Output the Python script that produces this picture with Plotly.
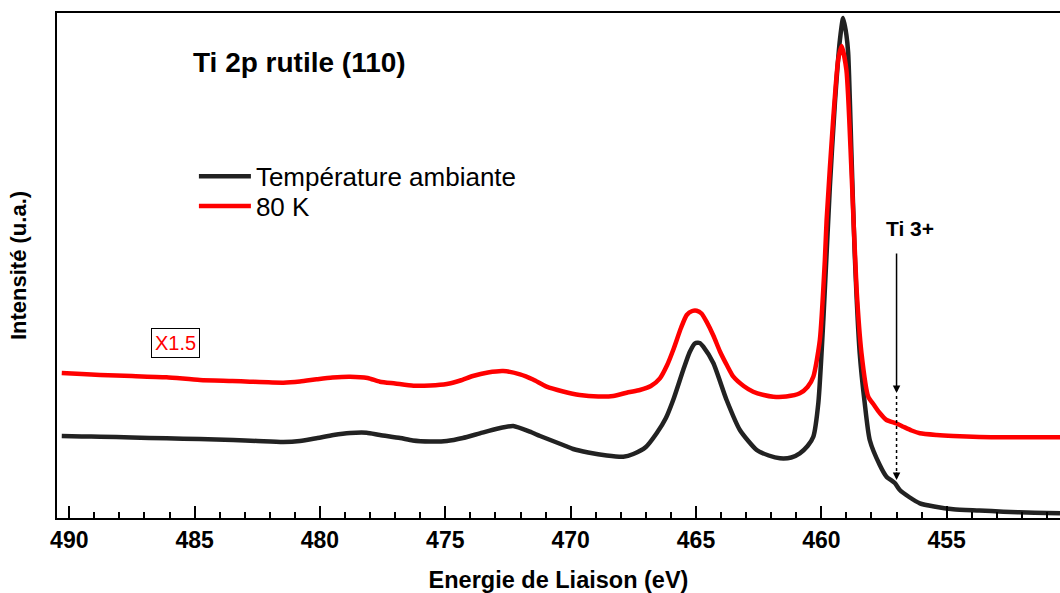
import plotly.graph_objects as go

# Ti 2p spectrum, rutile TiO2(110) — room temperature
energy_rt = [490.3, 489.5, 488.77, 487.5, 486.12, 484.8, 483.46, 482.5, 481.46, 480.8,
             480.1, 479.46, 478.8, 478.14, 477.61, 476.8, 476.3, 475.6, 474.94, 474.3,
             473.62, 472.9, 472.29, 471.63, 471.22, 470.3, 469.9, 469.3, 468.56, 467.9,
             467.5, 467.0, 466.57, 466.2, 465.91, 465.51, 465.25, 465.04, 464.85, 464.71,
             464.31, 463.78, 463.25, 462.58, 462.1, 461.65, 461.2, 460.86, 460.55, 460.32,
             460.12, 459.92, 459.66, 459.46, 459.26, 459.13, 459.0, 458.93, 458.8, 458.67,
             458.47, 458.27, 458.07, 457.67, 457.4, 457.07, 456.87, 456.5, 456.07, 455.5,
             454.74, 453.7, 452.74, 451.5, 450.48]
intensity_rt = [82, 81.5, 81.3, 80.5, 79.7, 79, 78, 77, 76, 77,
                80, 83, 85, 85.3, 83, 80, 77.5, 76.5, 77, 80,
                84.7, 89.5, 92, 86.3, 82, 73, 69, 65.5, 62.5, 61.3,
                64, 71, 84.7, 100, 118, 148, 166, 174.7, 175, 171.3,
                155, 118, 88, 68, 62.5, 59.7, 60.5, 64.7, 72, 81.3,
                115, 198, 331.3, 414.7, 478, 500, 483, 465, 365, 265,
                165, 115, 78, 53, 41.3, 35, 28, 21, 14.7, 11.5,
                8.7, 7.5, 6.3, 5.3, 4.7]

# 80 K spectrum (scaled x1.5)
energy_80k = [490.3, 489.5, 488.77, 487.5, 486.12, 484.79, 483.5, 482.8, 481.46, 480.8,
              480.13, 479.5, 478.8, 478.1, 477.61, 477.0, 476.27, 475.6, 474.94, 474.4,
              473.9, 473.3, 472.69, 472.02, 471.5, 470.96, 470.3, 469.64, 468.9, 468.3,
              467.7, 467.24, 466.8, 466.44, 466.15, 465.91, 465.6, 465.37, 465.15, 464.97,
              464.78, 464.58, 464.3, 464.04, 463.75, 463.51, 463.1, 462.72, 462.3, 461.92,
              461.4, 460.86, 460.55, 460.32, 460.06, 459.86, 459.79, 459.53, 459.33, 459.19,
              459.0, 458.8, 458.6, 458.4, 458.13, 457.9, 457.67, 457.4, 457.0, 456.73,
              456.4, 456.07, 455.4, 454.74, 453.7, 452.74, 451.5, 450.48]
intensity_80k = [145, 144, 143, 142, 140.7, 138, 137, 136.3, 135.3, 136.5,
                 138.7, 140.5, 141.3, 140, 136.3, 134.5, 132.3, 132.5, 134, 137.5,
                 142, 145.5, 147, 143.7, 138.5, 131.3, 126.5, 123, 121.5, 122,
                 125.7, 128, 132, 139.7, 153, 168, 190, 203, 207, 207.3,
                 204.5, 196.3, 182, 166.3, 152, 141.3, 132, 126.3, 123, 121.3,
                 121.5, 124.7, 131, 141.3, 178, 258, 298, 398, 458, 472,
                 448, 348, 231.3, 165, 121.3, 113, 105, 98, 94.5, 91.3,
                 87.5, 84.7, 83, 82, 81, 80.7, 80.7, 80.7]

major_ticks = [490, 485, 480, 475, 470, 465, 460, 455]

# Ti3+ shoulder marker
ti3_energy = 457.0
ti3_arrow_top = 266
ti3_arrow_mid = 125
ti3_arrow_end = 38

FONT = "Liberation Sans, Arial, sans-serif"
BLACK = "#222222"
RED = "#ff0000"

fig = go.Figure()
fig.add_trace(go.Scatter(x=energy_rt, y=intensity_rt, mode="lines",
                         name="Température ambiante", legend="legend",
                         line=dict(color=BLACK, width=4.5, shape="spline", smoothing=0.6)))
fig.add_trace(go.Scatter(x=energy_80k, y=intensity_80k, mode="lines",
                         name="80 K", legend="legend2",
                         line=dict(color=RED, width=4.5, shape="spline", smoothing=0.6)))

# solid arrow, then dotted continuation down to the shoulder
fig.add_annotation(x=ti3_energy, y=ti3_arrow_mid, ax=ti3_energy, ay=ti3_arrow_top,
                   xref="x", yref="y", axref="x", ayref="y", text="",
                   showarrow=True, arrowhead=2, arrowsize=1, arrowwidth=1.5,
                   arrowcolor="black")
fig.add_shape(type="line", x0=ti3_energy, x1=ti3_energy,
              y0=ti3_arrow_mid - 3, y1=ti3_arrow_end + 6,
              line=dict(color="black", width=1.5, dash="dot"))
fig.add_annotation(x=ti3_energy, y=ti3_arrow_end, ax=0, ay=-9,
                   xref="x", yref="y", text="", showarrow=True,
                   arrowhead=2, arrowsize=1, arrowwidth=1.5, arrowcolor="black")
fig.add_annotation(x=456.47, y=290, xref="x", yref="y", text="<b>Ti 3+</b>",
                   showarrow=False, font=dict(family=FONT, size=21, color="black"))

# scale factor label
fig.add_annotation(x=485.78, y=175.3, xref="x", yref="y", text="X1.5",
                   showarrow=False, font=dict(family=FONT, size=20, color=RED),
                   bordercolor="black", borderwidth=1, borderpad=3, bgcolor="white")

fig.add_annotation(x=0.1336, y=0.901, xref="paper", yref="paper",
                   xanchor="left", yanchor="middle",
                   text="<b>Ti 2p rutile (110)</b>", showarrow=False,
                   font=dict(family=FONT, size=28, color="black"))

legend_style = dict(xanchor="left", yanchor="top", bgcolor="rgba(0,0,0,0)",
                    borderwidth=0, itemwidth=52,
                    font=dict(family=FONT, size=26, color="black"))

fig.update_layout(
    width=1060, height=593,
    margin=dict(l=57, r=0, t=13, b=75),
    paper_bgcolor="white", plot_bgcolor="white",
    font=dict(family=FONT, color="black"),
    showlegend=True,
    legend=dict(x=0.1365, y=0.723, **legend_style),
    legend2=dict(x=0.1365, y=0.664, **legend_style),
    xaxis=dict(
        range=[490.49, 450.48], showgrid=False, zeroline=False,
        showline=True, linecolor="black", linewidth=2, mirror=True,
        ticks="inside", ticklen=12, tickwidth=2, tickcolor="black",
        tickvals=major_ticks, ticktext=[str(v) for v in major_ticks],
        tickfont=dict(family=FONT, size=23, color="black", weight="bold"),
        minor=dict(dtick=1, ticks="inside", ticklen=6, tickwidth=2, tickcolor="black"),
        title=dict(text="<b>Energie de Liaison (eV)</b>", standoff=20,
                   font=dict(family=FONT, size=23.5, color="black")),
    ),
    yaxis=dict(
        range=[0, 505], showgrid=False, zeroline=False,
        showline=True, linecolor="black", linewidth=2, mirror=False,
        showticklabels=False, ticks="",
        title=dict(text="<b>Intensité (u.a.)</b>", standoff=22,
                   font=dict(family=FONT, size=22, color="black")),
    ),
)

fig.write_html("out.html")
